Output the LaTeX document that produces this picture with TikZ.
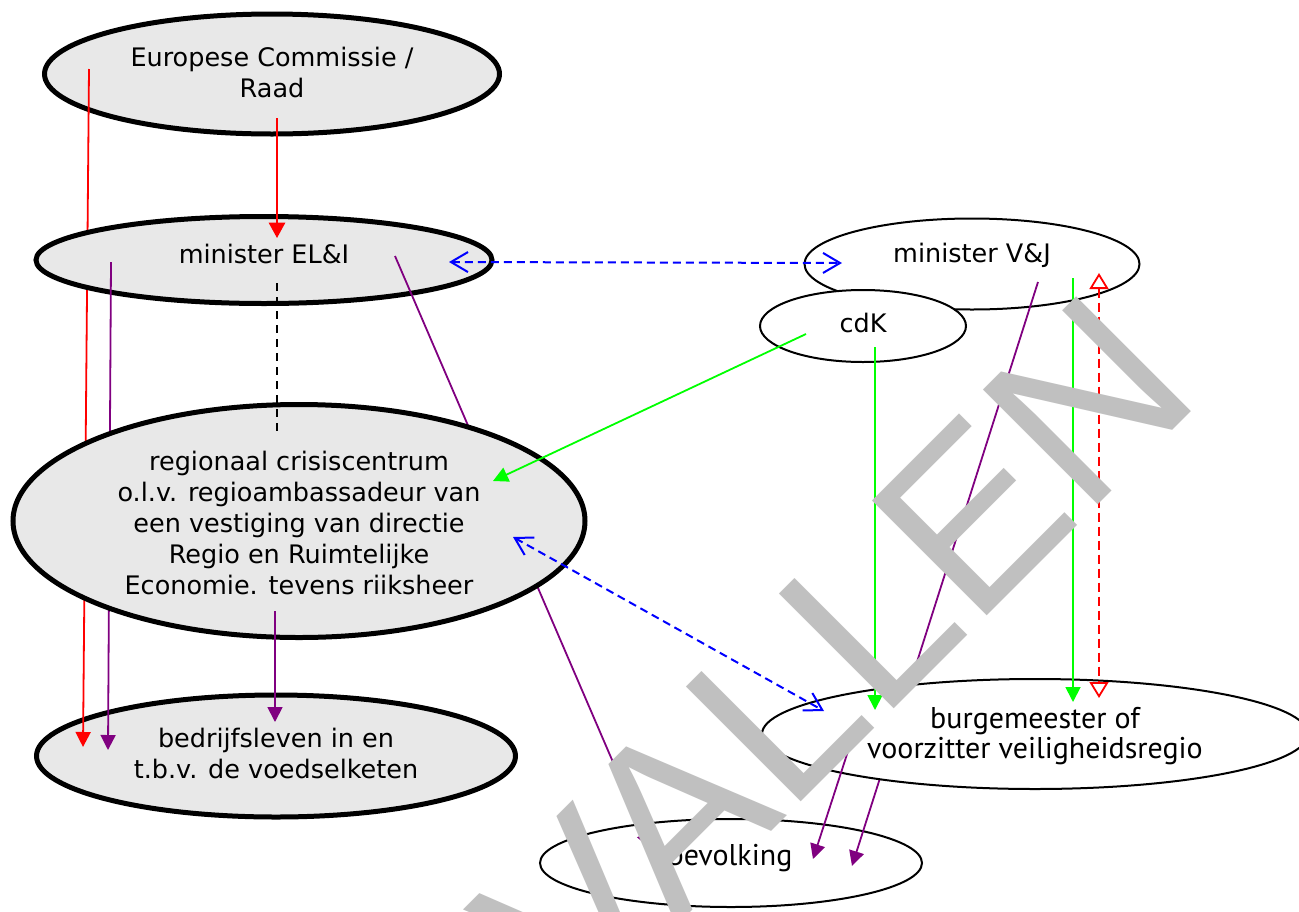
\documentclass[tikz,border=0pt]{standalone}
\usepackage{fontspec}
\setmainfont{DejaVu Sans}
\newfontfamily\condfont{PT Sans}
\newfontfamily\wmfont{Liberation Sans}
\usetikzlibrary{arrows.meta,shapes.geometric,calc}
\definecolor{ellgray}{HTML}{E8E8E8}
\definecolor{wmgray}{HTML}{C0C0C0}
\definecolor{vred}{HTML}{FF0000}
\definecolor{vgreen}{HTML}{00FF00}
\definecolor{vblue}{HTML}{0000FF}
\definecolor{vpurple}{HTML}{800080}
\begin{document}
\begin{tikzpicture}[x=1pt,y=-1pt,
  bigell/.style={ellipse, draw=black, line width=5pt, fill=ellgray, inner sep=0pt},
  smallell/.style={ellipse, draw=black, line width=2pt, fill=white, inner sep=0pt},
  lbl/.style={align=center, font=\fontsize{25.5}{31}\selectfont, inner sep=0pt},
  lblc/.style={align=center, font=\condfont\fontsize{30}{30}\selectfont, inner sep=0pt},
  con/.style={line width=1.8pt},
  filltip/.style={-{Triangle[length=15pt,width=15pt]}},
  redline/.style={con, draw=vred, fill=vred},
  purpleline/.style={con, draw=vpurple, fill=vpurple, filltip},
  greenline/.style={con, draw=vgreen, fill=vgreen, filltip},
  reddash/.style={con, draw=vred, dash pattern=on 9pt off 5pt,
     {Triangle[open,length=16pt,width=19pt]}-{Triangle[open,length=16pt,width=19pt]}},
  bluedash/.style={line width=2pt, draw=vblue, dash pattern=on 8pt off 5pt,
     {Straight Barb[length=17pt,width=20pt]}-{Straight Barb[length=17pt,width=20pt]}},
  blackdash/.style={line width=1.8pt, draw=black, dash pattern=on 8pt off 6pt},
  wm/.style={text=wmgray, font=\wmfont\fontsize{236}{236}\selectfont, inner sep=0pt}
]
\fill[white] (0,0) rectangle (1299,911);
\clip (0,0) rectangle (1299,911);

% bottom layer ellipses
\node[bigell, minimum width=455pt, minimum height=120pt] (ec) at (272,74) {};
\node[lbl] (ect) at (272,72.6) {Europese Commissie /\\Raad};
\node[bigell, minimum width=479pt, minimum height=122pt] (bed) at (276,756) {};
\node[lbl] (bedt) at (276,753.5) {bedrijfsleven in en\\t.b.v. de voedselketen};
\node[smallell, minimum width=382pt, minimum height=88pt] (bev) at (731,863) {};
\node[lblc] (bevt) at (730,858) {bevolking};
\node[smallell, minimum width=335pt, minimum height=91pt] (vj) at (972,264) {};
\node[lbl] (vjt) at (972,255.5) {minister V\&J};
\node[smallell, minimum width=206pt, minimum height=72pt] (cdk) at (863,326) {};
\node[lbl] (cdkt) at (863,323) {cdK};

% red long line (under minister EL&I and regional centre)
\draw[redline, filltip] ($(ec)+(-183,-5)$) -- ($(bed)+(-193,-9)$);

\node[bigell, minimum width=456pt, minimum height=87pt] (eli) at (264,260) {};
\node[lbl] (elit) at (264,254) {minister EL\&I};

\draw[redline, -{Triangle[length=15.5pt,width=16.5pt]}] ($(ec)+(5,44)$) -- ($(eli)+(13,-22)$);
\draw[purpleline] ($(eli)+(-153,2)$) -- ($(bed)+(-168,-6)$);
\draw[purpleline] ($(eli)+(131,-4)$) -- ($(bev)+(-81,-15)$);

\node[bigell, minimum width=572pt, minimum height=233pt] (reg) at (299,521) {};
\node[lbl] (regt) at (299,522.7) {regionaal crisiscentrum\\o.l.v. regioambassadeur van\\een vestiging van directie\\Regio en Ruimtelijke\\Economie. tevens riiksheer};

\draw[blackdash] ($(eli)+(13,23)$) -- ($(reg)+(-22,-90)$);
\draw[purpleline] ($(reg)+(-24,90)$) -- ($(bed)+(-1,-34)$);
\draw[greenline] ($(cdk)+(-57,8)$) -- ($(reg)+(194,-40)$);

\draw[purpleline] ($(vj)+(66,18)$) -- ($(bev)+(121,3)$);

\node[smallell, minimum width=546pt, minimum height=110pt] (burg) at (1035,734) {};
\node[lblc] (burgt) at (1035,736) {burgemeester of\\voorzitter veiligheidsregio};

\draw[greenline] ($(cdk)+(12,21)$) -- ($(burg)+(-160,-24)$);
\draw[greenline] ($(vj)+(101,14)$) -- ($(burg)+(38,-32)$);
\draw[reddash] ($(vj)+(127,9)$) -- ($(burg)+(64,-36)$);
\draw[bluedash] ($(eli)+(185,2)$) -- ($(vj)+(-130,-1)$);
\draw[bluedash] ($(reg)+(214,16)$) -- ($(burg)+(-211,-23)$);
\draw[purpleline] ($(burg)+(-185,11)$) -- ($(bev)+(82,-4)$);

% watermark
\node[wm, rotate=45, anchor=base] (wmark) at (721,882) {VERVALLEN};
\end{tikzpicture}
\end{document}
